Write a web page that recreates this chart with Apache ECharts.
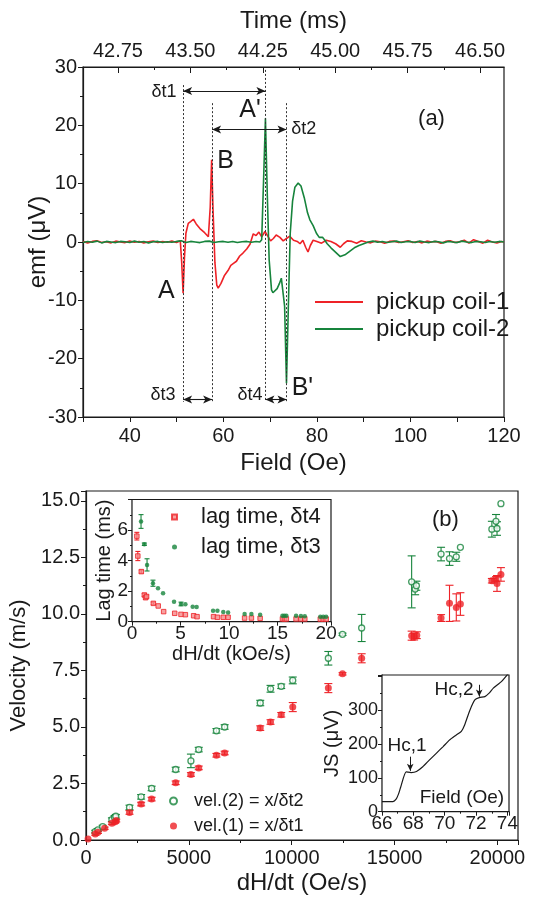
<!DOCTYPE html>
<html><head><meta charset="utf-8">
<script src="https://cdn.jsdelivr.net/npm/echarts@6/dist/echarts.min.js"></script>
<style>html,body{margin:0;padding:0;background:#fff}#c{width:538px;height:902px}</style>
</head><body><div id="c"></div>
<script>
// ---------- Panel (a): emf vs field ----------
var coil1Curve = [[30,0.1],[31,-0.15],[32,0.1],[33,0.2],[34,-0.1],[35,0.05],[36,-0.15],[37,0.15],[38,0],[39,-0.1],[40,0.15],[41,-0.05],[42,0.1],[43,-0.15],[44,0.05],[45,0.15],[46,-0.1],[47,0.1],[48,-0.05],[49,0.15],[50,-0.1],[50.8,0.2],[51.1,-3.5],[51.4,-8.8],[51.7,-2.5],[52.0,1.5],[52.5,3.2],[53.0,3.5],[53.6,3.9],[54.2,3.1],[55.0,2.3],[56.0,1.6],[56.8,0.9],[57.2,6.0],[57.5,14.1],[57.8,5.5],[58.2,-3.5],[58.6,-7.4],[58.9,-7.9],[59.5,-7.1],[60.2,-5.8],[61.0,-4.9],[61.6,-4.0],[62.1,-3.7],[62.8,-3.3],[63.5,-2.4],[64.2,-1.9],[65.0,-1.2],[65.7,-0.4],[66.4,1.4],[67.0,1.1],[67.6,1.7],[68.2,0.9],[68.9,1.8],[69.5,1.0],[70.1,0.2],[70.7,0.6],[71.3,1.2],[72.1,0.8],[72.8,0.2],[73.5,0.6],[74.2,1.0],[75.0,0.3],[75.8,0.1],[76.4,-0.3],[77.0,0.3],[77.6,-0.9],[78.1,-1.7],[78.6,-0.6],[79.2,0.3],[80,0.1],[81,-0.2],[82,0.3],[83,0.1],[84,-0.3],[85,-0.9],[85.7,-0.3],[86.5,0.2],[87.5,0.1],[88.5,-0.2],[89.5,0.2],[90.5,0],[91.5,-0.15],[92.5,0.15],[93.5,0.05],[94.5,-0.2],[95.5,0.1],[96.5,0.15],[97.5,-0.1],[98.5,0.05],[99.5,0.2],[100.5,-0.1],[101.5,0.1],[102.5,-0.15],[103.5,0.15],[104.5,0],[105.5,0.1],[106.5,-0.2],[107.5,0.1],[108.5,0.2],[109.5,-0.1],[110.5,0.05],[111.5,0.3],[112.5,-0.2],[113.5,0.4],[114.5,0.1],[115.5,-0.2],[116.5,0.3],[117.5,0],[118.5,-0.15],[119.5,0.1],[120,0]];
var coil2Curve = [[30,-0.1],[31,0.1],[32,-0.05],[33,0.15],[34,-0.15],[35,0.1],[36,0],[37,-0.1],[38,0.1],[39,0.05],[40,-0.1],[41,0.15],[42,-0.05],[43,0.1],[44,-0.15],[45,0.05],[46,0.1],[47,-0.1],[48,0.05],[49,-0.05],[50,0.1],[51,0.2],[52,-0.1],[53,0.1],[54,0],[55,-0.1],[56,0.1],[57,0.15],[58,-0.1],[59,0.05],[60,0.1],[61,-0.05],[62,0.1],[63,-0.1],[64,0.05],[65,0.1],[66,-0.05],[67,0.1],[67.8,0],[68.2,0.4],[68.6,10.5],[69.0,21.2],[69.4,8.0],[69.8,-3.1],[70.3,-8.2],[70.6,-8.7],[71.0,-8.6],[71.5,-8.0],[72.0,-7.1],[72.4,-6.2],[72.8,-5.9],[73.1,-11],[73.5,-24.2],[73.9,-11],[74.3,1.5],[74.8,7.0],[75.3,9.4],[76.0,10.1],[76.6,9.6],[77.3,7.6],[78.0,5.0],[78.5,3.8],[79.2,2.8],[79.9,1.5],[80.5,0.8],[81.2,0.8],[81.7,0.3],[82.2,-0.3],[83,-1.0],[84.2,-1.9],[85,-2.5],[86,-2.2],[87,-1.6],[88,-1.0],[89,-0.6],[90,-0.3],[91,0],[92,0.15],[93,-0.05],[94,0.1],[95,-0.1],[96,0.05],[97,0.15],[98,-0.1],[99,0.05],[100,0.1],[101,-0.1],[102,0.15],[103,0],[104,-0.1],[105,0.1],[106,0.05],[107,-0.15],[108,0.1],[109,0],[110,-0.1],[111,0.15],[112,0],[113,-0.1],[114,0.1],[115,0.05],[116,-0.1],[117,0.1],[118,-0.05],[119,0.1],[120,0]];
var timeTickLabels = [42.75, 43.50, 44.25, 45.00, 45.75, 46.50];
var timeMinorTicks = [43.125, 43.875, 44.625, 45.375, 46.125];
var timeRange = [42.388, 46.748];
// event markers (field, Oe) : A, B, A', B'
var markerField = [51.4, 57.6, 69.0, 73.5];
var markerTop = [26.9, 23.8, 29.5, 23.8];

// ---------- Panel (b): velocity vs dH/dt ----------
var vel2Rate = [450,580,810,1260,1390,1450,2115,2680,3190,4360,5100,5480,6340,6740,8470,8970,9490,10050,11780,12470,13400,15830,16000,16060,17260,17670,18000,18200,19730,19980,19930,20170];
var vel2Value = [0.37,0.45,0.59,0.9,1.0,1.05,1.44,1.91,2.28,3.12,3.5,4.0,4.83,5.0,6.06,6.69,6.8,7.06,8.04,9.1,9.38,11.42,11.1,11.25,12.65,12.45,12.53,12.95,13.75,13.78,14.1,14.88];
var vel2Err = [0.06,0.06,0.06,0.08,0.08,0.08,0.1,0.1,0.1,0.1,0.3,0.1,0.1,0.1,0.12,0.15,0.1,0.15,0.3,0.05,0.6,1.15,0.25,0.2,0.3,0.3,0.2,0,0.35,0.3,0.3,0];
var vel1Rate = [100,450,580,905,1260,1420,1470,2115,2680,3190,4360,5100,5480,6340,6740,8470,8970,9490,10050,11780,12470,13400,15830,15950,16080,17260,17670,18000,18200,19730,19980,19930,20170];
var vel1Value = [0.04,0.26,0.34,0.52,0.74,0.81,0.86,1.22,1.59,1.81,2.53,2.9,3.19,3.75,3.85,4.95,5.22,5.54,5.88,6.72,7.35,8.04,9.04,9.0,9.06,9.82,10.47,10.29,10.44,11.47,11.35,11.55,11.75];
var vel1Err = [0,0.05,0.05,0.05,0.06,0.06,0.06,0.08,0.08,0.08,0.08,0.08,0.08,0.08,0.08,0.1,0.1,0.1,0.2,0.2,0.05,0.2,0.2,0.15,0.15,0.15,0.8,0.6,0.5,0.1,0.35,0.1,0.3];

// ---------- Inset: lag times ----------
var lag4Rate = [0.5,0.6,0.96,1.27,1.4,1.5,2.2,2.7,3.26,4.4,5.05,5.5,6.35,6.7,8.4,8.8,9.4,9.9,11.6,12.3,13.2,15.5,15.7,15.9,16.9,17.4,17.8,19.4,19.7,20.0];
var lag4Value = [5.6,4.3,3.28,1.75,1.57,1.65,1.2,1.03,0.66,0.55,0.48,0.46,0.39,0.33,0.33,0.29,0.29,0.29,0.24,0.24,0.22,0.18,0.18,0.18,0.18,0.18,0.18,0.17,0.17,0.17];
var lag4Err = [0.25,0.3,0.1,0.1,0.1,0.1,0.08,0,0,0,0,0,0,0,0,0,0,0,0,0,0,0,0,0,0,0,0,0,0,0];
var lag3Rate = [0.93,1.27,1.55,2.16,2.68,3.2,4.33,5.05,5.5,6.25,6.66,8.35,8.8,9.4,9.9,11.6,12.3,13.2,15.5,15.7,15.9,16.9,17.4,17.8,19.4,19.7,20.0];
var lag3Value = [6.56,5.07,3.72,2.52,2.19,1.86,1.31,1.16,1.14,0.98,0.96,0.72,0.72,0.64,0.6,0.5,0.5,0.46,0.39,0.39,0.39,0.39,0.37,0.36,0.33,0.33,0.33];
var lag3Err = [0.45,0.08,0.4,0.2,0,0,0,0.12,0,0,0,0,0,0,0,0,0,0,0,0,0,0,0,0,0,0,0];

// ---------- Inset: JS vs field ----------
var jsField = [66,66.7,66.9,67.05,67.2,67.54,67.86,68.2,68.6,69.0,69.46,69.9,70.3,70.7,71.06,71.27,71.6,71.92,72.2,72.56,72.85,73.1,73.63,74.1];
var jsValue = [30,30,37,52,74,118,116,119,133,152,173,193,212,226,238,257,300,331,338,341,352,366,386,412];

var FF = "'Liberation Sans', Arial, Helvetica, sans-serif";
var RED = '#ee2227', GREEN = '#17843c', INK = '#1a1a1a';

function zip2(a, b) { return a.map(function (v, i) { return [v, b[i]]; }); }
function zip3(a, b, c) { return a.map(function (v, i) { return [v, b[i], c[i]]; }); }
function errRender(color, cap) {
  return function (params, api) {
    var x = api.value(0), y = api.value(1), e = api.value(2);
    if (!e) return null;
    var lo = api.coord([x, y - e]), hi = api.coord([x, y + e]);
    var st = { stroke: color, lineWidth: 1.1 };
    return { type: 'group', children: [
      { type: 'line', shape: { x1: lo[0], y1: lo[1], x2: hi[0], y2: hi[1] }, style: st },
      { type: 'line', shape: { x1: lo[0] - cap, y1: lo[1], x2: lo[0] + cap, y2: lo[1] }, style: st },
      { type: 'line', shape: { x1: hi[0] - cap, y1: hi[1], x2: hi[0] + cap, y2: hi[1] }, style: st }
    ]};
  };
}
function axLine() { return { onZero: false, lineStyle: { color: INK, width: 1.2 } }; }
function lbl(size, extra) { var o = { fontSize: size, color: INK, fontFamily: FF }; for (var k in extra) o[k] = extra[k]; return o; }
function nameStyle(size) { return { fontSize: size, color: INK, fontFamily: FF }; }
function txt(name, coord, size) { return { name: name, coord: coord, label: { fontSize: size } }; }

var vLines = markerField.map(function (f, i) { return [{ coord: [f, markerTop[i]] }, { coord: [f, -27.4] }]; });
var arrows = [
  [{ coord: [markerField[0], 25.9] }, { coord: [markerField[2], 25.9] }],
  [{ coord: [markerField[1], 19.3] }, { coord: [markerField[3], 19.3] }],
  [{ coord: [markerField[0], -27.0] }, { coord: [markerField[1], -27.0] }],
  [{ coord: [markerField[2], -27.0] }, { coord: [markerField[3], -27.0] }]
];

var markLabelStyle = { show: true, position: 'inside', color: INK, fontFamily: FF, formatter: function (p) { return p.name; } };

var option = {
  backgroundColor: '#fff',
  animation: false,
  grid: [
    { left: 83, top: 67, width: 421, height: 350, show: true, borderColor: INK, borderWidth: 1.2, backgroundColor: 'transparent' },
    { left: 84, top: 491, width: 434, height: 349, show: true, borderColor: INK, borderWidth: 1.2, backgroundColor: 'transparent' },
    { left: 132, top: 499.5, width: 199, height: 122.2, show: true, borderColor: INK, borderWidth: 1.2, backgroundColor: '#fff', z: 3 },
    { left: 382, top: 675, width: 127, height: 136.7, show: true, borderColor: INK, borderWidth: 1.2, backgroundColor: '#fff', z: 3 }
  ],
  xAxis: [
    { gridIndex: 0, type: 'value', position: 'bottom', min: 30, max: 120, interval: 10,
      axisLine: axLine(), axisTick: { length: 5, lineStyle: { color: INK } }, splitLine: { show: false },
      axisLabel: lbl(20, { margin: 9, formatter: function (v) { return v % 20 === 0 ? String(v) : ''; } }),
      name: 'Field (Oe)', nameLocation: 'middle', nameGap: 34, nameMoveOverlap: false, nameTextStyle: nameStyle(24) },
    { gridIndex: 0, type: 'value', position: 'top', min: timeRange[0], max: timeRange[1],
      axisLine: axLine(), axisTick: { inside: true, length: 6, customValues: timeTickLabels, lineStyle: { color: INK } },
      splitLine: { show: false },
      axisLabel: lbl(20, { margin: 6, customValues: timeTickLabels, formatter: function (v) { return v.toFixed(2); } }),
      name: 'Time (ms)', nameLocation: 'middle', nameGap: 34, nameMoveOverlap: false, nameTextStyle: nameStyle(24) },
    { gridIndex: 0, type: 'value', position: 'top', min: timeRange[0], max: timeRange[1],
      axisLine: { show: false, onZero: false }, axisTick: { inside: true, length: 3, customValues: timeMinorTicks, lineStyle: { color: INK } },
      axisLabel: { show: false }, splitLine: { show: false } },
    { gridIndex: 1, type: 'value', min: 0, max: 21000, interval: 5000,
      axisLine: axLine(), axisTick: { length: 5, lineStyle: { color: INK } },
      minorTick: { show: true, splitNumber: 2, length: 3, lineStyle: { color: INK } }, splitLine: { show: false },
      axisLabel: lbl(20, { margin: 8, formatter: function (v) { return v % 5000 === 0 ? String(v) : ''; } }),
      name: 'dH/dt (Oe/s)', nameLocation: 'middle', nameGap: 31, nameMoveOverlap: false, nameTextStyle: nameStyle(24) },
    { gridIndex: 2, type: 'value', min: 0, max: 20.5, interval: 5,
      axisLine: axLine(), axisTick: { length: 4, lineStyle: { color: INK } },
      minorTick: { show: true, splitNumber: 2, length: 2, lineStyle: { color: INK } }, splitLine: { show: false },
      axisLabel: lbl(19, { margin: 3, formatter: function (v) { return v % 5 === 0 ? String(v) : ''; } }),
      name: 'dH/dt (kOe/s)', nameLocation: 'middle', nameGap: 23, nameMoveOverlap: false, nameTextStyle: nameStyle(20) },
    { gridIndex: 3, type: 'value', min: 66, max: 74.1, interval: 2,
      axisLine: axLine(), axisTick: { length: 4, lineStyle: { color: INK } },
      minorTick: { show: true, splitNumber: 2, length: 2, lineStyle: { color: INK } }, splitLine: { show: false },
      axisLabel: lbl(19, { margin: 3, formatter: function (v) { return v % 2 === 0 ? String(v) : ''; } }) }
  ],
  yAxis: [
    { gridIndex: 0, type: 'value', min: -30, max: 30, interval: 10,
      axisLine: axLine(), axisTick: { length: 5, lineStyle: { color: INK } },
      minorTick: { show: true, splitNumber: 2, length: 3, lineStyle: { color: INK } }, splitLine: { show: false },
      axisLabel: lbl(20, { margin: 6 }),
      name: 'emf (\u03bcV)', nameLocation: 'middle', nameGap: 33, nameMoveOverlap: false, nameTextStyle: nameStyle(24) },
    { gridIndex: 1, type: 'value', min: 0, max: 15.44, interval: 2.5,
      axisLine: axLine(), axisTick: { length: 5, lineStyle: { color: INK } },
      minorTick: { show: true, splitNumber: 2, length: 3, lineStyle: { color: INK } }, splitLine: { show: false },
      axisLabel: lbl(20, { margin: 6, formatter: function (v) { return Math.abs(v / 2.5 - Math.round(v / 2.5)) < 1e-6 ? v.toFixed(1) : ''; } }),
      name: 'Velocity (m/s)', nameLocation: 'middle', nameGap: 56, nameMoveOverlap: false, nameTextStyle: nameStyle(22) },
    { gridIndex: 2, type: 'value', min: 0, max: 8, interval: 2,
      axisLine: axLine(), axisTick: { length: 4, lineStyle: { color: INK } },
      minorTick: { show: true, splitNumber: 2, length: 2, lineStyle: { color: INK } }, splitLine: { show: false },
      axisLabel: lbl(19, { margin: 4, formatter: function (v) { return v >= 8 ? '' : String(v); } }),
      name: 'Lag time (ms)', nameLocation: 'middle', nameGap: 18, nameMoveOverlap: false, nameTextStyle: nameStyle(20) },
    { gridIndex: 3, type: 'value', min: 0, max: 405, interval: 100,
      axisLine: axLine(), axisTick: { length: 4, lineStyle: { color: INK } },
      minorTick: { show: true, splitNumber: 2, length: 2, lineStyle: { color: INK } }, splitLine: { show: false },
      axisLabel: lbl(18, { margin: 4, formatter: function (v) { return v >= 400 ? '' : String(v); } }),
      name: 'JS (\u03bcV)', nameLocation: 'middle', nameGap: 40, nameMoveOverlap: false, nameTextStyle: nameStyle(20) }
  ],
  legend: [
    { data: [{ name: 'pickup coil-1', icon: 'rect' }, { name: 'pickup coil-2', icon: 'rect' }], left: 310, top: 285, orient: 'vertical', selectedMode: false,
      itemWidth: 48, itemHeight: 2.2, itemGap: 3, textStyle: { fontSize: 24, color: INK, fontFamily: FF, padding: [0, 0, 0, 8] } },
    { data: ['lag time, \u03b4t4', 'lag time, \u03b4t3'], left: 166, top: 501, orient: 'vertical', selectedMode: false,
      itemWidth: 5, itemHeight: 5, itemGap: 8, textStyle: { fontSize: 22, color: INK, fontFamily: FF, padding: [0, 0, 0, 19] } },
    { data: ['vel.(2) = x/\u03b4t2', 'vel.(1) = x/\u03b4t1'], left: 164, top: 787, orient: 'vertical', selectedMode: false,
      itemWidth: 7, itemHeight: 7, itemGap: 7, textStyle: { fontSize: 18, color: INK, fontFamily: FF, padding: [0, 0, 0, 12] } }
  ],
  series: [
    { type: 'line', name: 'pickup coil-1', xAxisIndex: 0, yAxisIndex: 0, data: coil1Curve, symbol: 'none',
      lineStyle: { color: RED, width: 1.6 }, itemStyle: { color: RED }, z: 3 },
    { type: 'line', name: 'pickup coil-2', xAxisIndex: 0, yAxisIndex: 0, data: coil2Curve, symbol: 'none',
      lineStyle: { color: GREEN, width: 1.6 }, itemStyle: { color: GREEN }, z: 4 },
    { type: 'line', name: 'annotA', xAxisIndex: 0, yAxisIndex: 0, data: [], z: 2,
      markLine: { silent: true, symbol: ['none', 'none'], label: { show: false },
        lineStyle: { type: [2, 2], color: '#333', width: 1 }, data: vLines } },
    { type: 'line', name: 'arrowsA', xAxisIndex: 0, yAxisIndex: 0, data: [], z: 5,
      markLine: { silent: true, symbol: ['arrow', 'arrow'], symbolSize: [6, 9], label: { show: false },
        lineStyle: { type: 'solid', color: INK, width: 1.1 }, data: arrows },
      markPoint: { silent: true, symbol: 'circle', symbolSize: 1, itemStyle: { color: 'rgba(0,0,0,0)' },
        label: markLabelStyle,
        data: [
          txt('\u03b4t1', [47.3, 25.7], 18), txt('\u03b4t2', [77.2, 19.4], 18),
          txt('\u03b4t3', [47.1, -26.2], 18), txt('\u03b4t4', [65.7, -26.2], 18),
          txt('A', [47.8, -8.5], 25), txt('B', [60.5, 13.9], 25),
          txt("A'", [65.7, 22.6], 25), txt("B'", [76.9, -25.0], 25),
          txt('(a)', [104.5, 21.1], 22)
        ] } },
    { type: 'custom', name: 'err2', xAxisIndex: 3, yAxisIndex: 1, renderItem: errRender(GREEN, 4), data: zip3(vel2Rate, vel2Value, vel2Err), z: 2 },
    { type: 'custom', name: 'err1', xAxisIndex: 3, yAxisIndex: 1, renderItem: errRender(RED, 4), data: zip3(vel1Rate, vel1Value, vel1Err), z: 2 },
    { type: 'scatter', name: 'vel.(2) = x/\u03b4t2', xAxisIndex: 3, yAxisIndex: 1, data: zip2(vel2Rate, vel2Value),
      symbol: 'circle', symbolSize: 6, itemStyle: { color: '#fff', borderColor: GREEN, borderWidth: 1.3 }, z: 4,
      markPoint: { silent: true, symbol: 'circle', symbolSize: 1, itemStyle: { color: 'rgba(0,0,0,0)' }, label: markLabelStyle,
        data: [txt('(b)', [17470, 14.16], 22)] } },
    { type: 'scatter', name: 'vel.(1) = x/\u03b4t1', xAxisIndex: 3, yAxisIndex: 1, data: zip2(vel1Rate, vel1Value),
      symbol: 'circle', symbolSize: 7, itemStyle: { color: RED }, z: 4 },
    { type: 'custom', name: 'errL4', xAxisIndex: 4, yAxisIndex: 2, renderItem: errRender(RED, 2.5), data: zip3(lag4Rate, lag4Value, lag4Err), z: 5 },
    { type: 'custom', name: 'errL3', xAxisIndex: 4, yAxisIndex: 2, renderItem: errRender(GREEN, 2.5), data: zip3(lag3Rate, lag3Value, lag3Err), z: 5 },
    { type: 'scatter', name: 'lag time, \u03b4t4', xAxisIndex: 4, yAxisIndex: 2, data: zip2(lag4Rate, lag4Value),
      symbol: 'rect', symbolSize: 4.5, itemStyle: { color: '#f58a8a', borderColor: RED, borderWidth: 1 }, z: 6 },
    { type: 'scatter', name: 'lag time, \u03b4t3', xAxisIndex: 4, yAxisIndex: 2, data: zip2(lag3Rate, lag3Value),
      symbol: 'circle', symbolSize: 4.5, itemStyle: { color: GREEN }, z: 6 },
    { type: 'line', name: 'JS', xAxisIndex: 5, yAxisIndex: 3, data: zip2(jsField, jsValue), symbol: 'none', smooth: 0.2,
      lineStyle: { color: INK, width: 1.2 }, z: 6,
      markLine: { silent: true, symbol: ['none', 'arrow'], symbolSize: [5, 7], label: { show: false },
        lineStyle: { type: 'solid', color: INK, width: 1 },
        data: [ [{ coord: [67.8, 163] }, { coord: [67.8, 121] }], [{ coord: [72.2, 376] }, { coord: [72.2, 341] }] ] },
      markPoint: { silent: true, symbol: 'circle', symbolSize: 1, itemStyle: { color: 'rgba(0,0,0,0)' }, label: markLabelStyle,
        data: [ txt('Hc,1', [67.6, 195], 19), txt('Hc,2', [70.6, 360], 19), txt('Field (Oe)', [71.1, 40], 19) ] } }
  ]
};
var chart = echarts.init(document.getElementById('c'), null, { renderer: 'canvas' });
chart.setOption(option);
</script></body></html>
